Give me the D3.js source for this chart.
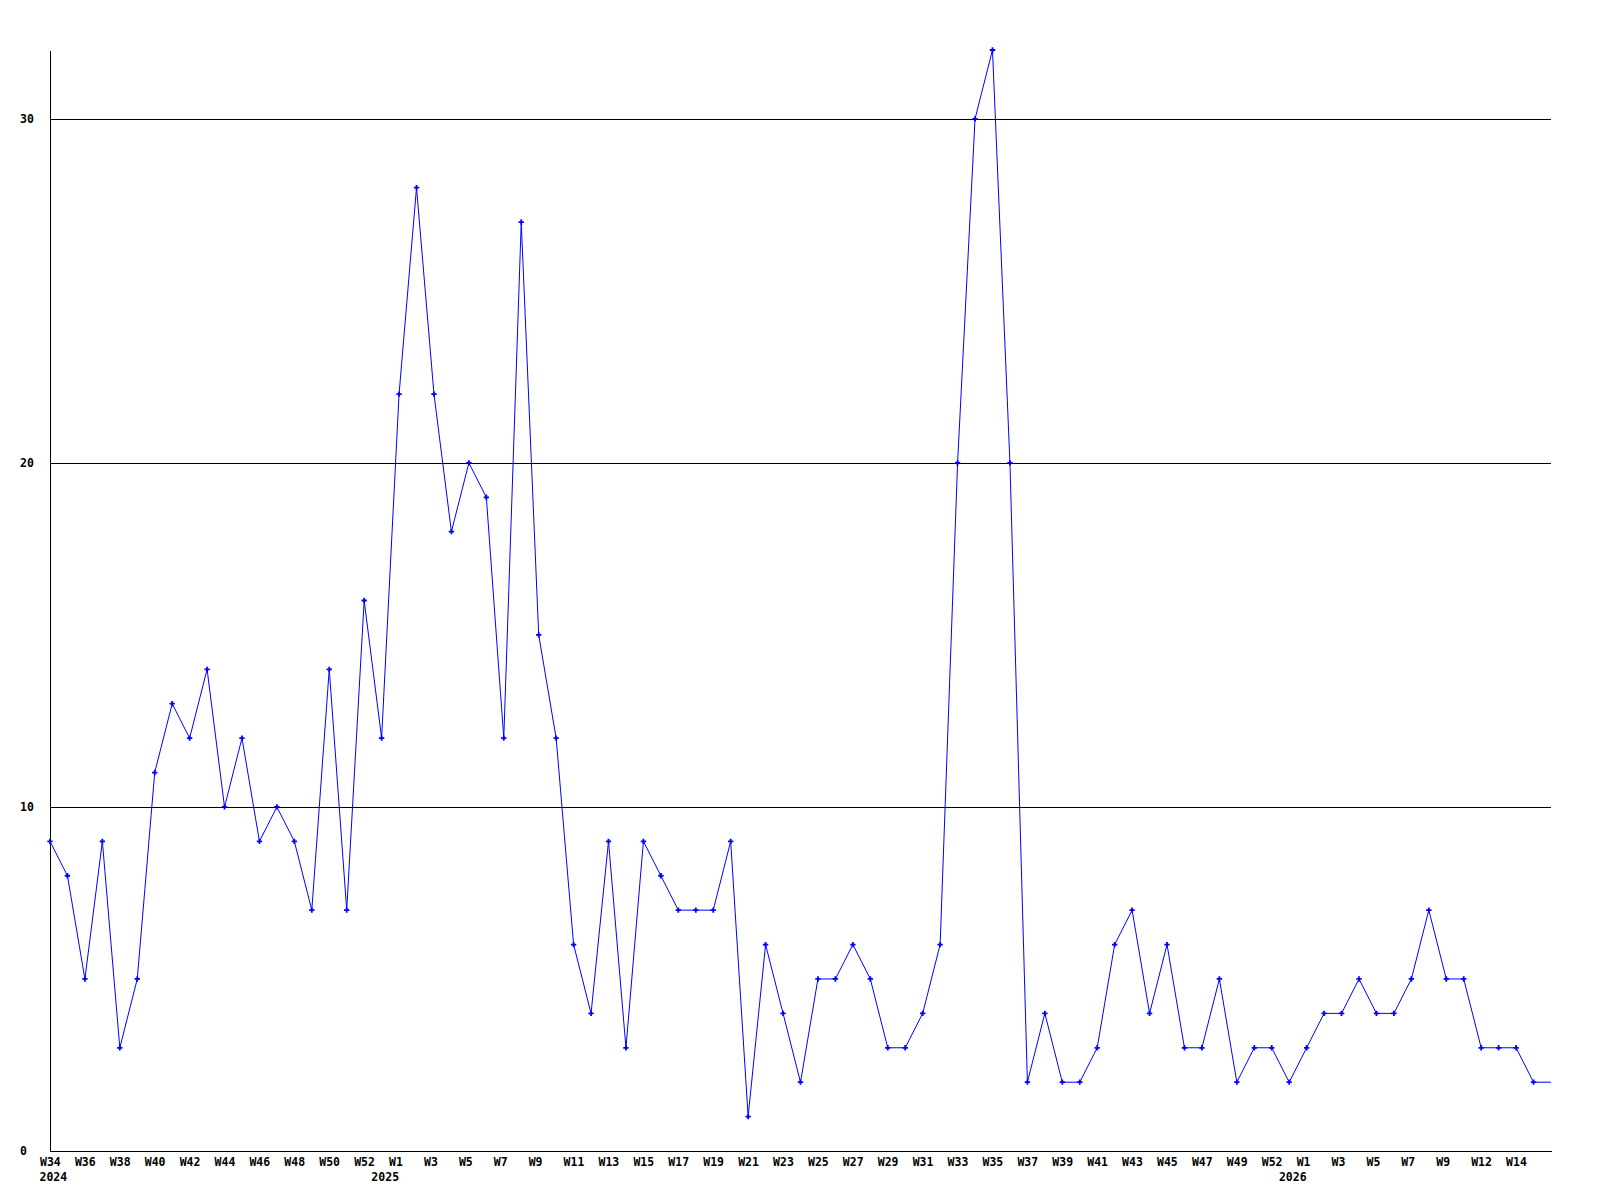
<!DOCTYPE html>
<html>
<head>
<meta charset="utf-8">
<script src="https://cdn.jsdelivr.net/npm/d3@7"></script>
<style>
  body { margin: 0; background: #fff; }
  text { font-family: "DejaVu Sans Mono", monospace; font-weight: bold; font-size: 11.5px; fill: #000; }
</style>
</head>
<body>
<div id="chart"></div>
<script>
// weekly counts, W34 2024 onwards (last point is the running week, no marker)
const counts = [9, 8, 5, 9, 3, 5, 11, 13, 12, 14, 10, 12, 9, 10, 9, 7, 14, 7, 16, 12,
    22, 28, 22, 18, 20, 19, 12, 27, 15, 12, 6, 4, 9, 3, 9, 8, 7, 7, 7, 9,
    1, 6, 4, 2, 5, 5, 6, 5, 3, 3, 4, 6, 20, 30, 32, 20, 2, 4, 2, 2,
    3, 6, 7, 4, 6, 3, 3, 5, 2, 3, 3, 2, 3, 4, 4, 5, 4, 4, 5, 7,
    5, 5, 3, 3, 3, 2, 2];

// x tick labels, one every second week
const tickIndex = [0, 2, 4, 6, 8, 10, 12, 14, 16, 18, 20, 22, 24, 26, 28, 30, 32, 34, 36, 38,
    40, 42, 44, 46, 48, 50, 52, 54, 56, 58, 60, 62, 64, 66, 68, 70, 72, 74, 76, 78, 80, 82, 84];
const tickLabels = ["W34", "W36", "W38", "W40", "W42", "W44", "W46", "W48", "W50", "W52",
    "W1", "W3", "W5", "W7", "W9", "W11", "W13", "W15", "W17", "W19", "W21", "W23", "W25",
    "W27", "W29", "W31", "W33", "W35", "W37", "W39", "W41", "W43", "W45", "W47", "W49", "W52",
    "W1", "W3", "W5", "W7", "W9", "W12", "W14"];

const yearIndex = [0, 20, 72];
const yearLabels = ["2024", "2025", "2026"];

const yTicks = [0, 10, 20, 30];

const plot = { left: 50, right: 1551, top: 50, bottom: 1151 };

const svg = d3.select("#chart")
    .append("svg")
    .attr("width", 1600)
    .attr("height", 1200);

svg.append("rect").attr("width", 1600).attr("height", 1200).attr("fill", "#fff");

const x = d3.scaleLinear()
    .domain([0, counts.length - 1])
    .range([plot.left, plot.right]);

const y = d3.scaleLinear()
    .domain([0, 32])
    .range([plot.bottom, plot.top]);

// horizontal grid lines
svg.append("g")
    .attr("transform", "translate(" + plot.left + ",0)")
    .call(d3.axisLeft(y).tickValues([10, 20, 30]).tickSize(-(plot.right - plot.left)).tickFormat(""))
    .call(g => g.select(".domain").remove())
    .selectAll("line")
    .attr("stroke", "#000")
    .attr("shape-rendering", "crispEdges");

// y axis
const yAxis = svg.append("g")
    .attr("transform", "translate(" + plot.left + ",0)")
    .call(d3.axisLeft(y).tickValues(yTicks).tickSize(0));
yAxis.attr("font-family", null).attr("font-size", null);
yAxis.select(".domain").attr("stroke", "#000").attr("shape-rendering", "crispEdges");
yAxis.selectAll("text")
    .attr("x", -30)
    .attr("dy", "0.32em")
    .style("text-anchor", "start");

// x axis
const xAxis = svg.append("g")
    .attr("transform", "translate(0," + plot.bottom + ")")
    .call(d3.axisBottom(x).tickValues(tickIndex).tickFormat((d, i) => tickLabels[i]).tickSize(0));
xAxis.attr("font-family", null).attr("font-size", null);
xAxis.select(".domain").attr("stroke", "#000").attr("shape-rendering", "crispEdges");
xAxis.selectAll("text")
    .attr("y", 15)
    .attr("dy", 0)
    .attr("dx", -10.5)
    .style("text-anchor", "start");

// year labels under the first week of each year
svg.selectAll(".year")
    .data(yearLabels)
    .enter()
    .append("text")
    .attr("class", "year")
    .attr("x", (d, i) => i === 0 ? x(yearIndex[i]) - 10.5 : x(yearIndex[i]))
    .attr("y", plot.bottom + 30)
    .style("text-anchor", (d, i) => i === 0 ? "start" : "end")
    .text(d => d);

// the series line
const line = d3.line()
    .x((d, i) => x(i))
    .y(d => y(d));

svg.append("path")
    .datum(counts)
    .attr("fill", "none")
    .attr("stroke", "#0000ff")
    .attr("stroke-width", 1)
    .attr("d", line);

// point markers
svg.selectAll(".pt")
    .data(counts.slice(0, -1))
    .enter()
    .append("path")
    .attr("class", "pt")
    .attr("d", d3.symbol(d3.symbolCross, 16))
    .attr("transform", (d, i) => "translate(" + x(i) + "," + y(d) + ")")
    .attr("fill", "#0000ff");
</script>
</body>
</html>
